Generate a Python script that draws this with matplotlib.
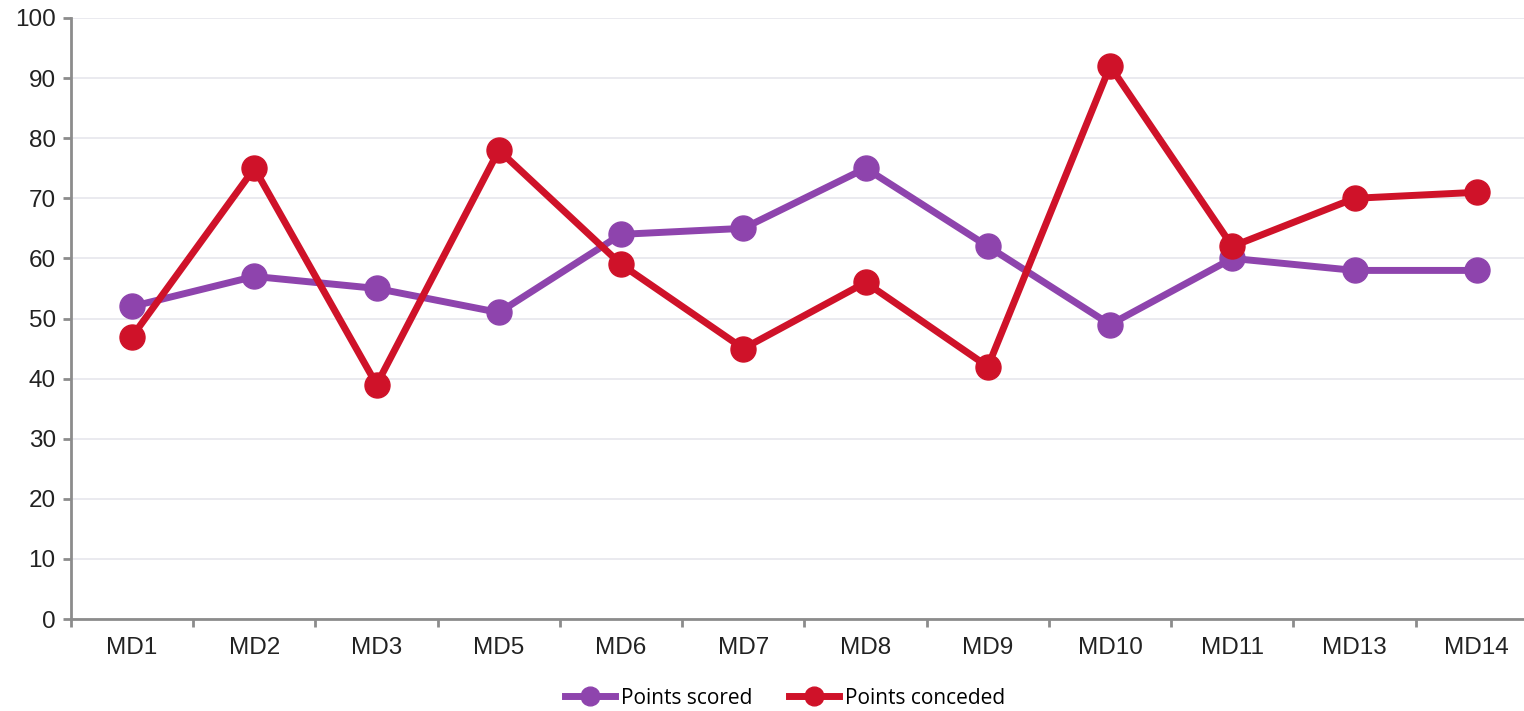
import matplotlib
matplotlib.use("Agg")
import matplotlib.pyplot as plt
import numpy as np

categories = ["MD1", "MD2", "MD3", "MD5", "MD6", "MD7", "MD8", "MD9", "MD10", "MD11", "MD13", "MD14"]
points_scored = [52, 57, 55, 51, 64, 65, 75, 62, 49, 60, 58, 58]
points_conceded = [47, 75, 39, 78, 59, 45, 56, 42, 92, 62, 70, 71]
y_ticks = [0, 10, 20, 30, 40, 50, 60, 70, 80, 90, 100]

purple = "#8E44AD"
red = "#CF1229"
axis_grey = "#8c8c8c"

fig = plt.figure(figsize=(15.24, 7.11), dpi=100)
ax = fig.add_axes([71/1524, 92/711, 1467/1524, 601/711])

x = np.arange(len(categories))
ax.plot(x, points_scored, color=purple, lw=5.0, marker="o", ms=18, label="Points scored", zorder=3)
ax.plot(x, points_conceded, color=red, lw=5.0, marker="o", ms=18, label="Points conceded", zorder=4)

ax.set_xlim(-0.5, len(categories) - 0.5)
ax.set_ylim(0, 100)
ax.set_yticks(y_ticks)
ax.set_xticks(x)
ax.set_xticklabels(categories)
ax.set_xticks(np.arange(len(categories) + 1) - 0.5, minor=True)

for s in ["top", "right"]:
    ax.spines[s].set_visible(False)
for s in ["left", "bottom"]:
    ax.spines[s].set_color(axis_grey)
    ax.spines[s].set_linewidth(2)

ax.tick_params(axis="x", which="major", length=0, pad=13, labelsize=17.5, labelcolor="#222222")
ax.tick_params(axis="x", which="minor", length=6, width=2, color=axis_grey)
ax.tick_params(axis="y", length=6, width=2, color=axis_grey, pad=5, labelsize=17.5, labelcolor="#222222")
for lbl in ax.get_xticklabels() + ax.get_yticklabels():
    lbl.set_fontfamily("Liberation Sans")

ax.grid(axis="y", color="#e6e6ec", lw=1.2, zorder=0)
ax.set_axisbelow(True)

leg = fig.legend(loc="center", bbox_to_anchor=(785/1524, 1 - 698/711), ncol=2, frameon=False,
                 prop={"family": "Open Sans", "size": 15}, handlelength=2.4, columnspacing=1.8,
                 handletextpad=0.25, markerscale=0.75)

fig.savefig("out.png", dpi=100)
